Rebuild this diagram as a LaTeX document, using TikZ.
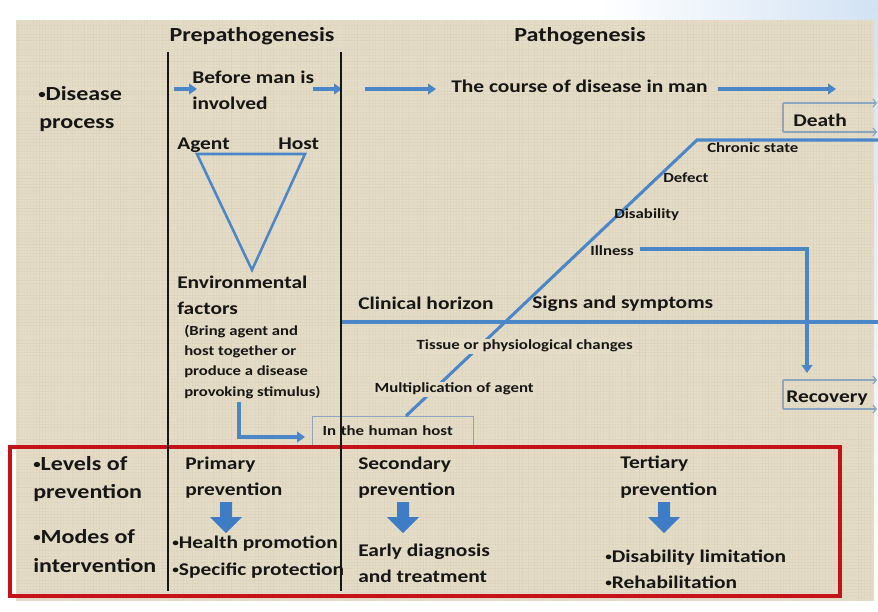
\documentclass[tikz,border=0pt]{standalone}
\usepackage{fontspec}
\setmainfont{Carlito}[FakeStretch=1.2]
\usetikzlibrary{arrows.meta}

\definecolor{canvas}{RGB}{228,220,198}
\definecolor{weave}{RGB}{190,178,150}
\definecolor{ink}{RGB}{22,22,22}
\definecolor{flow}{RGB}{74,134,200}
\definecolor{frame}{RGB}{196,18,26}
\definecolor{boxedge}{RGB}{140,165,192}
\definecolor{block}{RGB}{62,124,198}
\definecolor{sky}{RGB}{210,226,243}

% small list bullet
\newcommand\dotbullet{\raisebox{0.28ex}{\scalebox{0.62}{•}}}

\begin{document}
\begin{tikzpicture}[x=0.75pt,y=-0.75pt,
  lbl/.style={inner sep=0pt, anchor=mid west, yshift=-2pt, text=ink, font=\bfseries\fontsize{13.4}{16}\selectfont},
  head/.style={lbl, anchor=mid, font=\bfseries\fontsize{15}{18}\selectfont},
  lead/.style={lbl, font=\bfseries\fontsize{15}{18}\selectfont},
  small/.style={lbl, font=\bfseries\fontsize{10.5}{12.6}\selectfont},
  note/.style={lbl, font=\bfseries\fontsize{10.4}{12.5}\selectfont},
  cut/.style={fill=canvas, inner xsep=1pt, inner ysep=1pt},
  divider/.style={draw=ink, line width=2.2pt},
  flowline/.style={draw=flow, line width=2.3pt},
  flowarrow/.style={flowline, -{Triangle[length=6pt,width=8pt]}},
  thinarrow/.style={draw=boxedge, line width=0.9pt, -{Straight Barb[length=2.5pt,width=6pt]}},
  boxline/.style={draw=boxedge, line width=0.9pt},
  downarrow/.pic={
    \fill[block] (-6,-15) -- (6,-15) -- (6,0) -- (16,0) -- (0,16) -- (-16,0) -- (-6,0) -- cycle;
  }
]
\useasboundingbox (0,0) rectangle (878,611);

% page and canvas background
\fill[white] (0,0) rectangle (878,611);
\shade[left color=white, right color=sky] (600,0) rectangle (878,20);
\shade[top color=sky, bottom color=white] (874,0) rectangle (878,611);
\fill[canvas] (16,20) rectangle (874,601);
\pgfmathsetseed{7}
\foreach \i in {18,21,...,872} {
  \pgfmathsetmacro\op{0.02+0.13*rnd}
  \draw[weave, line width=0.35pt, opacity=\op] (\i,20) -- (\i,601);
}
\foreach \j in {22,25,...,600} {
  \pgfmathsetmacro\op{0.02+0.13*rnd}
  \draw[weave, line width=0.35pt, opacity=\op] (16,\j) -- (874,\j);
}

% headings
\node[head] (prepath) at (252,36) {Prepathogenesis};
\node[head] (path) at (580,36) {Pathogenesis};

% disease process row
\node[lead] (dis1) at (38,95) {\dotbullet Disease};
\node[lead] (dis2) at (39,123) {process};

\coordinate (a1s) at (174,89); \coordinate (a1e) at (197,89);
\coordinate (a2s) at (313,89); \coordinate (a2e) at (342,89);
\coordinate (a3s) at (365,89); \coordinate (a3e) at (436,89);
\coordinate (a4s) at (718,89); \coordinate (a4e) at (836,89);
\draw[flowarrow] (a1s) -- (a1e);
\draw[flowarrow] (a2s) -- (a2e);
\draw[flowarrow] (a3s) -- (a3e);
\draw[flowarrow] (a4s) -- (a4e);

\node[lbl] (before1) at (192,78) {Before man is};
\node[lbl] (before2) at (192,104) {involved};
\node[lbl] (course) at (451,87) {The course of disease in man};

% epidemiological triangle
\node[lbl] (agent) at (177,144) {Agent};
\node[lbl] (host) at (278,144) {Host};
\coordinate (tA) at (197,154);
\coordinate (tH) at (305,154);
\coordinate (tE) at (252,270);
\draw[draw=flow, line width=1.9pt, line join=miter] (tA) -- (tH) -- (tE) -- cycle;

\node[lbl] (env1) at (177,283) {Environmental};
\node[lbl] (env2) at (177,309) {factors};
\node[note] (bring1) at (184,330) {(Bring agent and};
\node[note] (bring2) at (184,350) {host together or};
\node[note] (bring3) at (184,370) {produce a disease};
\node[note] (bring4) at (184,391) {provoking stimulus)};

% the human host box
\node[draw=boxedge, line width=0.9pt, minimum height=21.75pt, text width=105.75pt,
      inner xsep=7.5pt, inner ysep=0pt, align=left, anchor=north west,
      text=ink, font=\bfseries\fontsize{10.5}{12.6}\selectfont] (hostbox) at (312,416) {In the human host};
\coordinate (envFrom) at (239,402);
\coordinate (envTurn) at (239,437);
\coordinate (envTo) at (305,437);
\draw[flowarrow] (envFrom) -- (envTurn) -- (envTo);

% clinical horizon
\coordinate (horL) at (341,322);
\coordinate (horR) at (878,322);
\draw[flowline] (horL) -- (horR);
\node[lbl] (clinical) at (358,304) {Clinical horizon};
\node[lbl] (signs) at (532,303) {Signs and symptoms};

% course of disease: rising line to chronic state
\coordinate (riseStart) at (406,416);
\coordinate (riseTop) at (697,140);
\coordinate (chronR) at (878,140);
\draw[flowline, line join=miter] (riseStart) -- (riseTop) -- (chronR);

\node[small, cut] (tissue) at (415,344) {Tissue or physiological changes};
\node[small, cut] (mult) at (373,387) {Multiplication of agent};
\node[small] (chronic) at (707,147) {Chronic state};
\node[small] (defect) at (663,177) {Defect};
\node[small] (disab) at (614,213) {Disability};
\node[small] (illness) at (590,250) {Illness};

% illness to recovery
\coordinate (illS) at (640,249);
\coordinate (illTurn) at (807,249);
\coordinate (illE) at (807,373);
\draw[flowarrow, line join=miter] (illS) -- (illTurn) -- (illE);

% outcome boxes
\coordinate (dTL) at (783,103); \coordinate (dBL) at (783,132);
\coordinate (dTR) at (877,103); \coordinate (dBR) at (877,132);
\draw[boxline] (dTL) -- (dBL);
\draw[thinarrow] (dTL) -- (dTR);
\draw[thinarrow] (dBL) -- (dBR);
\node[lbl] (death) at (793,121) {Death};

\coordinate (rTL) at (783,380); \coordinate (rBL) at (783,409);
\coordinate (rTR) at (877,380); \coordinate (rBR) at (877,409);
\draw[boxline] (rTL) -- (rBL);
\draw[thinarrow] (rTL) -- (rTR);
\draw[thinarrow] (rBL) -- (rBR);
\node[lbl] (recovery) at (786,397) {Recovery};

% levels of prevention
\draw[draw=frame, line width=2.7pt] (10,447) rectangle (840,596);

\node[lead] (lev1) at (33,465) {\dotbullet Levels of};
\node[lead] (lev2) at (33,493) {prevention};
\node[lead] (mod1) at (33,538) {\dotbullet Modes of};
\node[lead] (mod2) at (33,567) {intervention};

\node[lbl] (prim1) at (185,464) {Primary};
\node[lbl] (prim2) at (185,490) {prevention};
\pic at (226,517) {downarrow};
\node[lbl] (hp) at (172,543) {\dotbullet Health promotion};
\node[lbl] (sp) at (172,570) {\dotbullet Specific protection};

\node[lbl] (sec1) at (358,464) {Secondary};
\node[lbl] (sec2) at (358,490) {prevention};
\pic at (403,517) {downarrow};
\node[lbl] (ed1) at (358,551) {Early diagnosis};
\node[lbl] (ed2) at (358,577) {and treatment};

\node[lbl] (ter1) at (620,463) {Tertiary};
\node[lbl] (ter2) at (620,490) {prevention};
\pic at (664,517) {downarrow};
\node[lbl] (dl) at (605,557) {\dotbullet Disability limitation};
\node[lbl] (rh) at (605,583) {\dotbullet Rehabilitation};

% period dividers
\coordinate (d1t) at (168,52); \coordinate (d1b) at (168,591);
\coordinate (d2t) at (341,52); \coordinate (d2b) at (341,591);
\draw[divider] (d1t) -- (d1b);
\draw[divider] (d2t) -- (d2b);
\end{tikzpicture}
\end{document}
